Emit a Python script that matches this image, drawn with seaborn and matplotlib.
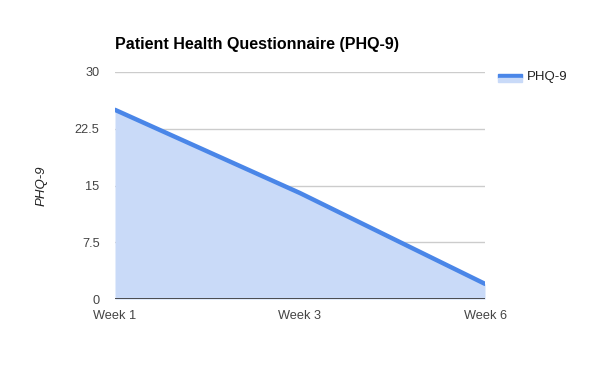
import matplotlib
matplotlib.use("Agg")
import matplotlib.pyplot as plt
import seaborn as sns
import pandas as pd
from matplotlib.patches import Rectangle

weeks = ["Week 1", "Week 3", "Week 6"]
phq9 = [25, 14, 2]
yticks = [0, 7.5, 15, 22.5, 30]
ytick_labels = ["0", "7.5", "15", "22.5", "30"]

sns.set_theme(style="white")
plt.rcParams['font.family'] = ['Liberation Sans', 'DejaVu Sans']

df = pd.DataFrame({"week": weeks, "PHQ-9": phq9})
df["x"] = range(len(weeks))

fig = plt.figure(figsize=(6, 3.71), dpi=100)
ax = fig.add_axes([115/600, 1 - 299/371, 370/600, 227/371])

line_color = "#4a86e8"
fill_color = "#c9daf8"

ax.fill_between(df["x"], df["PHQ-9"], 0, color=fill_color, linewidth=0, zorder=1)
sns.lineplot(data=df, x="x", y="PHQ-9", ax=ax, color=line_color, linewidth=3.2,
             zorder=3, legend=False)

ax.set_xlim(0, len(weeks) - 1)
ax.set_ylim(0, 30)
ax.set_yticks(yticks)
ax.set_yticklabels(ytick_labels)
ax.set_xticks(df["x"])
ax.set_xticklabels(weeks)
ax.tick_params(axis='both', length=0, labelsize=9.2, labelcolor="#444444")
ax.tick_params(axis='y', pad=11)
ax.tick_params(axis='x', pad=8)
for y in yticks[1:]:
    ax.axhline(y, color="#cccccc", linewidth=1, zorder=0)
ax.axhline(0, color="#333333", linewidth=1.2, zorder=4)
for s in ax.spines.values():
    s.set_visible(False)
ax.set_xlabel("")
ax.set_ylabel("PHQ-9", fontstyle="italic", fontsize=9.5, color="#222222")
ax.yaxis.set_label_coords((48 - 115) / 370, 0.5)

fig.text(115/600, 1 - 45/371, "Patient Health Questionnaire (PHQ-9)",
         fontsize=11.5, fontweight="bold", color="#000000", va="center", ha="left")

# legend
fig.patches.append(Rectangle((498/600, 1 - 78/371), 24/600, 4/371,
                             transform=fig.transFigure, color=line_color, figure=fig))
fig.patches.append(Rectangle((498/600, 1 - 82/371), 24/600, 4/371,
                             transform=fig.transFigure, color=fill_color, figure=fig))
fig.text(527/600, 1 - 77/371, "PHQ-9", fontsize=9.5, color="#222222", va="center", ha="left")

fig.savefig("out.png", dpi=100, facecolor="white")
